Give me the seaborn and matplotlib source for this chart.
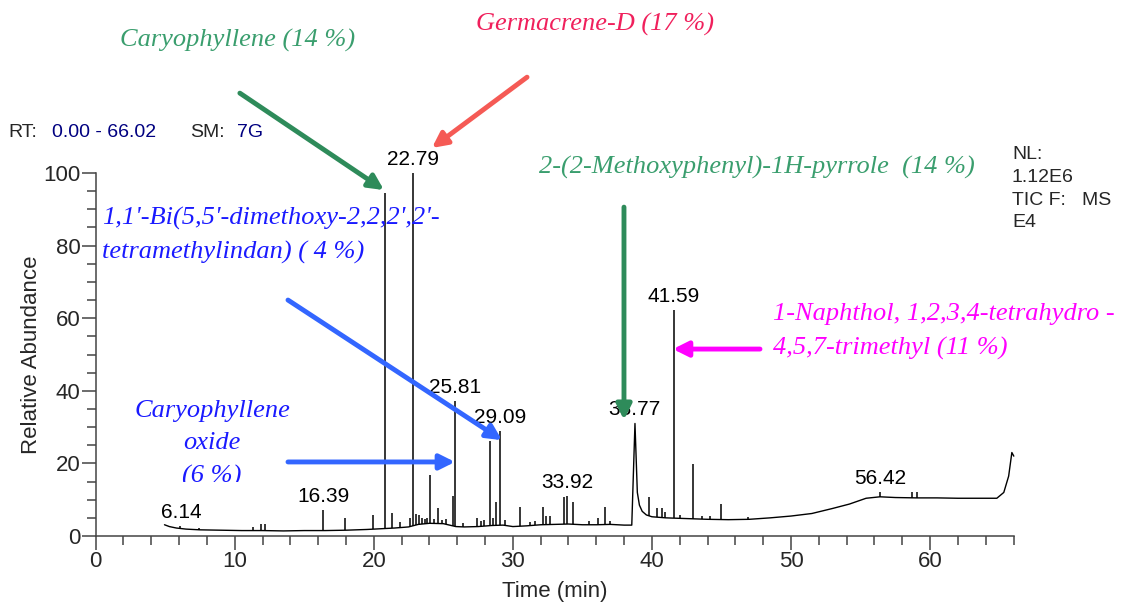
import numpy as np
import matplotlib
matplotlib.use('Agg')
import matplotlib.pyplot as plt
import seaborn as sns
from matplotlib.ticker import MultipleLocator
from matplotlib.transforms import Bbox, TransformedBbox

sns.set_style('ticks')
plt.rcParams['font.family'] = ['Liberation Sans', 'DejaVu Sans']

# slow part of the trace (baseline, tailing peak at 38.77, rise at the end)
trace_rt = [4.95, 5.3, 5.8, 6.5, 7.5, 9.0, 10.5, 12.0, 13.5, 15.0, 16.5, 18.0, 19.5, 20.5,
            21.5, 22.5, 23.2, 24.0, 25.0, 25.9, 26.5, 27.5, 28.5, 29.3, 30.0, 31.0, 32.0,
            33.0, 34.0, 35.0, 36.0, 37.0, 38.0, 38.55, 38.78, 38.95, 39.1, 39.3, 39.6, 40.0,
            41.0, 42.5, 44.0, 45.5, 47.0, 48.5, 50.0, 51.5, 53.0, 54.2, 55.4, 56.4, 57.5,
            59.0, 60.5, 62.0, 63.5, 64.8, 65.3, 65.65, 65.88, 66.02]
trace_ab = [3.1, 2.6, 2.2, 1.9, 1.7, 1.6, 1.5, 1.5, 1.4, 1.5, 1.5, 1.6, 1.8, 2.0,
            2.2, 2.5, 3.2, 3.5, 3.4, 2.6, 2.5, 2.6, 2.9, 3.0, 2.6, 2.8, 3.1,
            3.2, 3.3, 3.1, 3.1, 3.2, 3.0, 3.0, 31.0, 12.0, 8.5, 6.8, 5.8, 5.3,
            5.0, 4.8, 4.6, 4.5, 4.6, 5.0, 5.5, 6.2, 7.6, 8.8, 10.4, 10.8, 10.6,
            10.5, 10.5, 10.4, 10.4, 10.4, 12.0, 16.5, 23.0, 22.0]

# sharp peaks
peak_rt = [6.10, 7.40, 11.30, 11.90, 12.20, 16.35, 17.95, 19.95, 20.82, 21.33, 21.92, 22.60,
           22.79, 23.00, 23.27, 23.50, 23.70, 23.85, 24.02, 24.30, 24.59, 24.88, 25.20, 25.66,
           25.81, 26.40, 27.40, 27.70, 27.95, 28.38, 28.60, 28.78, 29.09, 29.40, 30.50, 31.20,
           31.60, 32.19, 32.40, 32.67, 33.68, 33.92, 34.35, 35.50, 36.14, 36.65, 37.00, 39.81,
           40.34, 40.70, 40.94, 41.59, 42.02, 42.93, 43.60, 44.20, 44.97, 46.93, 56.42, 58.68,
           59.04]
peak_ab = [2.8, 2.1, 2.5, 3.3, 3.3, 7.2, 5.0, 5.8, 94.5, 6.4, 3.8, 5.0,
           100, 6.0, 5.8, 5.0, 4.6, 5.0, 16.8, 4.8, 7.7, 4.3, 4.8, 11.0,
           37.2, 3.6, 4.9, 4.2, 4.5, 26.2, 5.0, 9.5, 28.9, 4.4, 8.1, 3.8,
           4.2, 8.1, 5.5, 5.4, 10.8, 11.0, 9.3, 4.0, 4.9, 7.9, 4.0, 10.8,
           7.6, 7.6, 6.7, 62.3, 5.8, 19.7, 5.5, 5.5, 8.7, 5.2, 12.1, 12.0,
           12.1]

label_rt = [6.14, 16.39, 22.79, 25.81, 29.09, 33.92, 38.77, 41.59, 56.42]
label_ab = [2.8, 7.2, 100, 37.2, 28.9, 11.0, 31.0, 62.3, 12.1]

fig = plt.figure(figsize=(11.4, 6.03), dpi=100)
ax = fig.add_axes([0.0839, 0.1111, 0.8054, 0.602])

sns.lineplot(x=trace_rt, y=trace_ab, color='black', lw=1.0, ax=ax, clip_on=False)
base = np.interp(peak_rt, trace_rt, trace_ab)
ax.vlines(peak_rt, base, peak_ab, color='black', lw=1.1, clip_on=False)

for rt, ab in zip(label_rt, label_ab):
    ax.annotate(f'{rt:.2f}', (rt, ab), xytext=(0, 3), textcoords='offset points',
                ha='center', va='bottom', fontsize=15, color='black', annotation_clip=False)

ax.set_xlim(0, 66.02)
ax.set_ylim(0, 100)
ax.xaxis.set_major_locator(MultipleLocator(10))
ax.xaxis.set_minor_locator(MultipleLocator(2))
ax.yaxis.set_major_locator(MultipleLocator(20))
ax.yaxis.set_minor_locator(MultipleLocator(5))
ax.tick_params(which='major', length=10, width=1.1, color='#444444', labelsize=16, pad=1)
ax.tick_params(which='minor', length=6.5, width=1.1, color='#444444')
sns.despine(ax=ax)
for s in ['left', 'bottom']:
    ax.spines[s].set_color('#444444')
    ax.spines[s].set_linewidth(1.1)
ax.set_xlabel('Time (min)', fontsize=16, labelpad=6)
ax.set_ylabel('Relative Abundance', fontsize=16, labelpad=1)

# header texts
navy = '#000080'
fig.text(0.007, 0.781, 'RT:', fontsize=14, va='center')
fig.text(0.046, 0.781, '0.00 - 66.02', fontsize=14, va='center', color=navy)
fig.text(0.167, 0.781, 'SM:', fontsize=14, va='center')
fig.text(0.208, 0.781, '7G', fontsize=14, va='center', color=navy)
fig.text(0.8877, 0.758, 'NL:\n1.12E6\nTIC F:   MS\nE4', fontsize=14, va='top',
         linespacing=1.45)

# compound annotations
serif = dict(family=['Liberation Serif', 'DejaVu Serif'], style='italic', fontsize=19)
green_t, green_a = '#3a9e6e', '#2e8b5a'
red_t, red_a = '#f0205c', '#f55a55'
blue_t, blue_a = '#1a1aff', '#3366ff'
mag = '#ff00ff'
arrow = dict(arrowstyle='-|>,head_length=0.9,head_width=0.45', lw=3.5, shrinkA=0, shrinkB=0)

ax.text(10.18, 136.6, 'Caryophyllene (14 %)', color=green_t, ha='center', va='center', **serif)
ax.annotate('', xy=(20.73, 95.3), xytext=(10.37, 122.0), annotation_clip=False,
            arrowprops=dict(color=green_a, **arrow))

ax.text(35.9, 140.8, 'Germacrene-D (17 %)', color=red_t, ha='center', va='center', **serif)
ax.annotate('', xy=(24.18, 106.9), xytext=(31.02, 126.4), annotation_clip=False,
            arrowprops=dict(color=red_a, **arrow))

ax.text(47.55, 101.4, '2-(2-Methoxyphenyl)-1H-pyrrole  (14 %)', color=green_t,
        ha='center', va='center', **serif)
ax.annotate('', xy=(37.99, 32.0), xytext=(37.99, 90.6), annotation_clip=False,
            arrowprops=dict(color=green_a, **arrow))

ax.text(0.45, 82.8, "1,1'-Bi(5,5'-dimethoxy-2,2,2',2'-\ntetramethylindan) ( 4 %)",
        color=blue_t, ha='left', va='center', linespacing=1.62, **serif)
ax.annotate('', xy=(29.22, 26.4), xytext=(13.83, 65.0), annotation_clip=False,
            arrowprops=dict(color=blue_a, **arrow))

oxide = fig.text(0.186, 0.2637, 'Caryophyllene\noxide\n(6 %)', color=blue_t, ha='center',
                 va='center', linespacing=1.6, **serif)
oxide.set_clip_box(TransformedBbox(Bbox([[0, 0.2007], [1, 1]]), fig.transFigure))
oxide.set_clip_on(True)
ax.annotate('', xy=(25.84, 20.4), xytext=(13.83, 20.4), annotation_clip=False,
            arrowprops=dict(color=blue_a, **arrow))

ax.text(48.7, 56.3, '1-Naphthol, 1,2,3,4-tetrahydro -\n4,5,7-trimethyl (11 %)', color=mag,
        ha='left', va='center', linespacing=1.7, **serif)
ax.annotate('', xy=(41.51, 51.5), xytext=(47.77, 51.5), annotation_clip=False,
            arrowprops=dict(color=mag, **arrow))

fig.savefig('out.png', dpi=100)
